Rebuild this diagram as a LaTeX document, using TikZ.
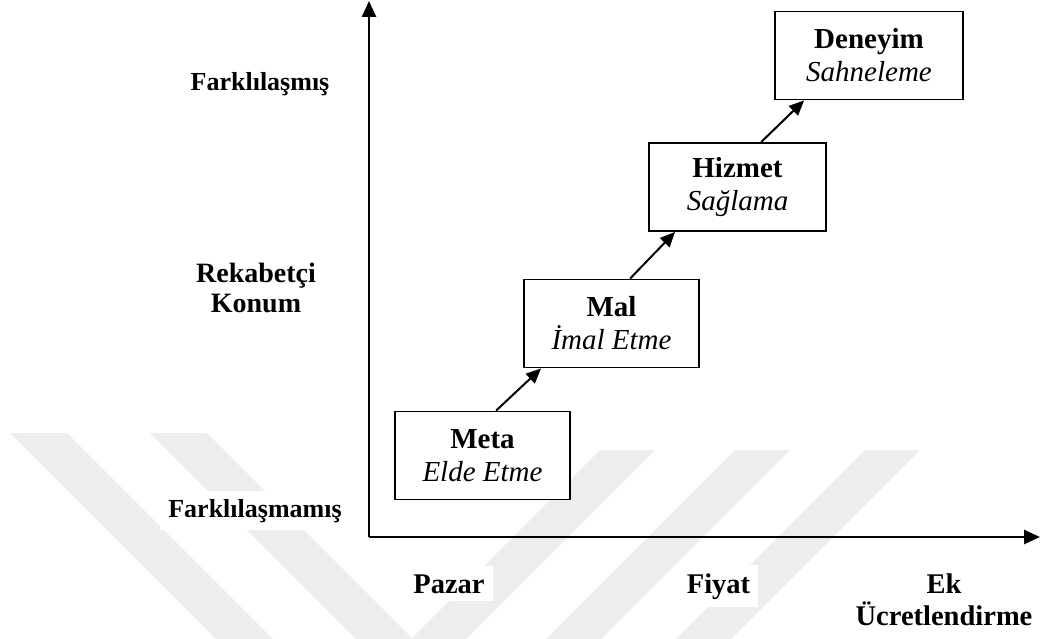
\documentclass[tikz,border=0pt]{standalone}
\usepackage{fontspec}
\setmainfont{Liberation Serif}
\usetikzlibrary{arrows.meta}
\begin{document}
\begin{tikzpicture}[x=1pt,y=-1pt,
  stagebox/.style={draw=black,line width=1.8pt,fill=white,minimum width=175pt,minimum height=88pt,
    align=center,inner sep=0pt,font=\fontsize{29}{33}\selectfont},
  lab/.style={fill=white,inner sep=8pt,align=center,font=\bfseries\fontsize{28.5}{30}\selectfont},
  smalllab/.style={lab,font=\bfseries\fontsize{26}{30}\selectfont},
  axis/.style={line width=2.6pt,-{Triangle[length=16pt,width=14pt]}},
  conn/.style={line width=2pt,-{Triangle[length=15pt,width=13pt]}},
  wm/.style={fill=black!7,draw=none}]
\useasboundingbox (0,0) rectangle (1041,639);
% watermark
\fill[wm] (10,433) -- (67,433) -- (273,639) -- (216,639) -- cycle;
\fill[wm] (150,433) -- (207,433) -- (413,639) -- (356,639) -- cycle;
\fill[wm] (600,450) -- (655,450) -- (466,639) -- (411,639) -- cycle;
\fill[wm] (735,450) -- (790,450) -- (601,639) -- (546,639) -- cycle;
\fill[wm] (865,450) -- (920,450) -- (731,639) -- (676,639) -- cycle;
% axes
\coordinate (O) at (369,537);
\coordinate (ytip) at (369,1);
\coordinate (xtip) at (1040,537);
\draw[axis] (O) -- (ytip);
\draw[axis] (O) -- (xtip);
% axis labels
\node[smalllab,anchor=base] (fark) at (260,91) {Farklılaşmış};
\node[lab,font=\bfseries\fontsize{28}{30}\selectfont] (rek) at (256,287.5) {Rekabetçi\\Konum};
\node[smalllab,anchor=base] (farkm) at (255,517) {Farklılaşmamış};
\node[lab,anchor=base] (pazar) at (449,593) {Pazar};
\node[lab,anchor=base] (fiyat) at (718.5,593) {Fiyat};
\node[lab,font=\bfseries\fontsize{28.5}{32}\selectfont] (ek) at (944,599.5) {Ek\\Ücretlendirme};
% stages
\node[stagebox] (meta) at (482.5,455.5) {\textbf{Meta}\\\textit{Elde Etme}};
\node[stagebox] (mal) at (611.5,323.5) {\textbf{Mal}\\\textit{İmal Etme}};
\node[stagebox,minimum width=177pt] (hizmet) at (737.5,187) {\textbf{Hizmet}\\\textit{Sağlama}};
\node[stagebox,minimum width=188pt] (deneyim) at (869,55.5) {\textbf{Deneyim}\\\textit{Sahneleme}};
% connectors
\draw[conn] ([xshift=102pt]meta.north west) -- ([xshift=18pt]mal.south west);
\draw[conn] ([xshift=107pt]mal.north west) -- ([xshift=27pt]hizmet.south west);
\draw[conn] ([xshift=113pt]hizmet.north west) -- ([xshift=30pt]deneyim.south west);
\end{tikzpicture}
\end{document}
